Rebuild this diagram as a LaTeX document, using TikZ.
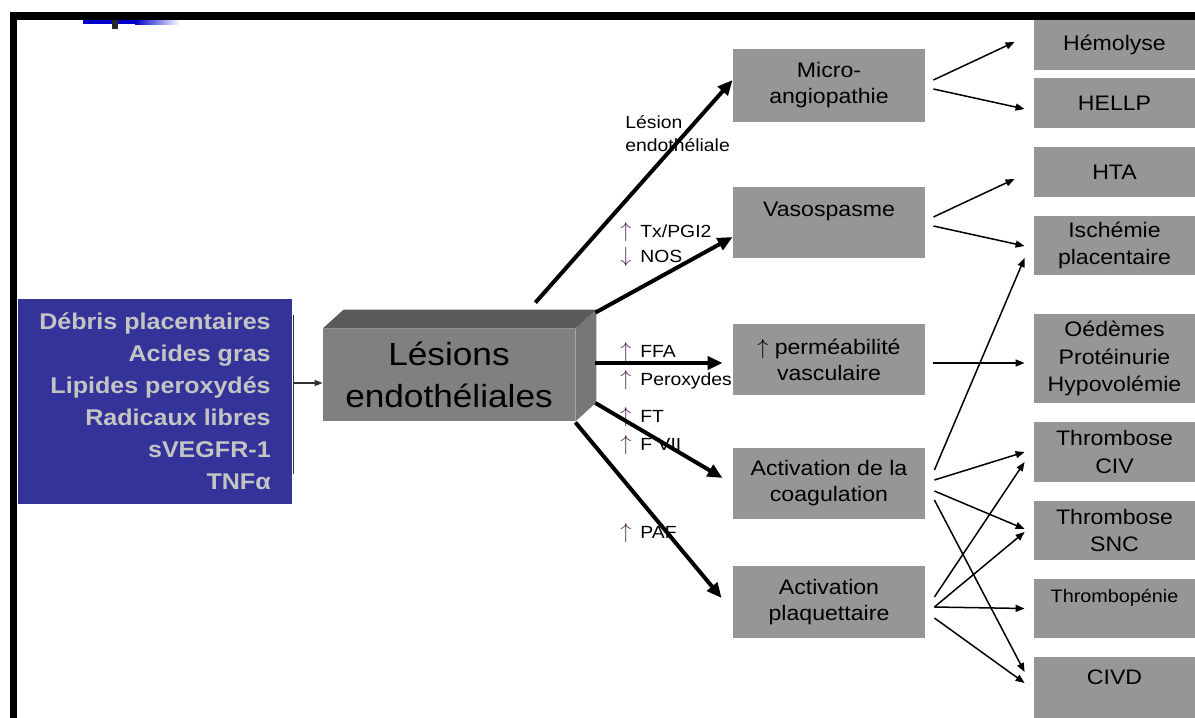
\documentclass[tikz,border=0pt]{standalone}
\usepackage{fontspec}
\setmainfont[FakeStretch=1.1]{Liberation Sans}
\usetikzlibrary{arrows.meta,calc}

\definecolor{slideblue}{HTML}{333399}
\definecolor{boxgrey}{HTML}{969696}
\definecolor{frontgrey}{HTML}{808080}
\definecolor{topgrey}{HTML}{5A5A5A}
\definecolor{sidegrey}{HTML}{777777}
\definecolor{causegrey}{HTML}{C4C4C4}
\definecolor{notearrow}{HTML}{5A2A5A}

\newcommand\upar{\makebox[10pt][l]{\fontsize{11}{11}\selectfont\textcolor{notearrow}{$\uparrow$}}}
\newcommand\dnar{\makebox[10pt][l]{\fontsize{11}{11}\selectfont\textcolor{notearrow}{$\downarrow$}}}

\def\Mx{829}
\def\Rx{1114.5}

\begin{document}
\begin{tikzpicture}[x=0.5pt, y=-0.5pt,
    midbox/.style={fill=boxgrey, minimum width=96pt, minimum height=#1, inner sep=0pt, align=center, font=\fontsize{10.5}{13}\selectfont},
    outbox/.style={fill=boxgrey, minimum width=80.5pt, minimum height=#1, inner sep=0pt, align=center, font=\fontsize{10.5}{13.75}\selectfont},
    note/.style={anchor=west, inner sep=0pt, align=left, font=\fontsize{8.8}{11.5}\selectfont},
    cause/.style={line width=2pt, -{Triangle[length=7.5pt,width=6.5pt]}},
    link/.style={line width=0.75pt, -{Triangle[length=4.5pt,width=3.5pt]}},
    bracket/.style={line width=0.6pt, draw=black!80}]
    \useasboundingbox (0,0) rectangle (1195,718);
    \fill[white] (0,0) rectangle (1195,718);
    \fill[black] (10,12) rectangle (1195,20);
    \fill[black] (10,12) rectangle (17,718);
    \fill[blue!80!black] (83,20) rectangle (135,24);
    \shade[left color=blue!80!black, right color=white] (135,20) rectangle (180,24);
    \fill[black!85] (112,20) rectangle (118,29);

    \node[fill=slideblue, minimum width=137pt, minimum height=102.5pt, inner sep=0pt, align=right,
          text=causegrey, font=\fontsize{11.4}{16}\selectfont\bfseries] (debris) at (155,401)
          {Débris placentaires\\Acides gras\\Lipides peroxydés\\Radicaux libres\\sVEGFR-1\\TNFα};

    \node[fill=frontgrey, minimum width=126pt, minimum height=46pt, inner sep=0pt, align=center,
          font=\fontsize{16}{21}\selectfont] (lesion) at (449,375) {Lésions\\endothéliales};
    \fill[topgrey] (lesion.north west) -- ++(21,-19) -- ($(lesion.north east)+(21,-19)$) -- (lesion.north east) -- cycle;
    \fill[sidegrey] (lesion.north east) -- ++(21,-19) -- ($(lesion.south east)+(21,-19)$) -- (lesion.south east) -- cycle;

    \node[midbox=36.5pt] (micro) at (\Mx,85.5) {Micro-\\angiopathie};
    \node[midbox=35.5pt] (vaso) at (\Mx,222.5) {Vasospasme\\\mbox{}};
    \node[midbox=35.5pt] (perm) at (\Mx,359.5) {$\uparrow$ perméabilité\\vasculaire};
    \node[midbox=35.5pt] (coag) at (\Mx,483.5) {Activation de la\\coagulation};
    \node[midbox=36pt] (plaq) at (\Mx,602) {Activation\\plaquettaire};

    \node[outbox=25pt] (hemo) at (\Rx,45) {Hémolyse};
    \node[outbox=25pt] (hellp) at (\Rx,103) {HELLP};
    \node[outbox=25pt] (hta) at (\Rx,172) {HTA};
    \node[outbox=29.5pt] (isch) at (\Rx,245.5) {Ischémie\\placentaire};
    \node[outbox=44.5pt] (oed) at (\Rx,358.5) {Oédèmes\\Protéinurie\\Hypovolémie};
    \node[outbox=30pt] (civ) at (\Rx,452) {Thrombose\\CIV};
    \node[outbox=29.5pt] (snc) at (\Rx,530.5) {Thrombose\\SNC};
    \node[outbox=29.5pt, font=\fontsize{9}{11}\selectfont] (thr) at (\Rx,608.5) {Thrombopénie\\[2pt]\mbox{}};
    \node[outbox=30.5pt] (civd) at (\Rx,687.5) {CIVD\\[-3.5pt]\mbox{}};

    \node[note] (lesionlbl) at (625,133.5) {Lésion\\endothéliale};
    \node[note] (txlbl) at (620,244.5) {\upar Tx/PGI2\\[1pt]\dnar NOS};
    \node[note] (ffalbl) at (620,366) {\upar FFA\\[2.5pt]\upar Peroxydes};
    \node[note] (ftlbl) at (620,431) {\upar FT\\[2.5pt]\upar F VII};
    \node[note] (paflbl) at (620,533) {\upar PAF};

    \draw[bracket] ($(debris.north east)+(1,17)$) -- ($(debris.south east)+(1,-30)$);
    \draw[bracket, -{Triangle[length=4pt,width=3pt]}] ($(debris.east)+(1,-18)$) -- ($(lesion.west)+(0,8)$);

    \draw[cause] ($(lesion.north east)+(-40,-26)$) -- ($(micro.west)+(0,-5.5)$);
    \draw[cause] ($(lesion.north east)+(20,-16)$) -- ($(vaso.west)+(0,14.5)$);
    \draw[cause] ($(lesion.east)+(20,-12)$) -- ($(perm.west)+(-10,3.5)$);
    \draw[cause] ($(lesion.east)+(20,28)$) -- ($(coag.west)+(-10,-5.5)$);
    \draw[cause] ($(lesion.south east)+(0,1)$) -- ($(plaq.west)+(-11,-4)$);

    \draw[link] ($(micro.east)+(8,-5.5)$) -- ($(hemo.west)+(-19,-3)$);
    \draw[link] ($(micro.east)+(8,3.5)$) -- ($(hellp.west)+(-9,6)$);
    \draw[link] ($(vaso.east)+(8,-5.5)$) -- ($(hta.west)+(-19,7)$);
    \draw[link] ($(vaso.east)+(8,3.5)$) -- ($(isch.west)+(-9,0.5)$);
    \draw[link] ($(perm.east)+(8,3.5)$) -- ($(oed.west)+(-9,4.5)$);
    \draw[link] ($(coag.east)+(9,-13.5)$) -- ($(isch.west)+(-9,12.5)$);
    \draw[link] ($(coag.east)+(9,-3.5)$) -- ($(civ.west)+(-9,0)$);
    \draw[link] ($(coag.east)+(9,7.5)$) -- ($(snc.west)+(-9,-1.5)$);
    \draw[link] ($(coag.east)+(9,16.5)$) -- ($(civd.west)+(-9,-15.5)$);
    \draw[link] ($(plaq.east)+(9,-5)$) -- ($(civ.west)+(-9,10)$);
    \draw[link] ($(plaq.east)+(9,5)$) -- ($(snc.west)+(-9,1.5)$);
    \draw[link] ($(plaq.east)+(9,5)$) -- ($(thr.west)+(-9,0)$);
    \draw[link] ($(plaq.east)+(9,16)$) -- ($(civd.west)+(-9,-4.5)$);
\end{tikzpicture}
\end{document}
